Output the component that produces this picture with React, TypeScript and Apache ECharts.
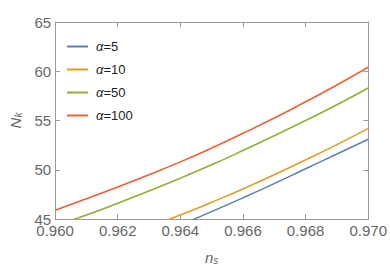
import React, { useEffect, useRef } from "react";
import * as echarts from "echarts";

const nsValues = [0.960, 0.961, 0.962, 0.963, 0.964, 0.965, 0.966, 0.967, 0.968, 0.969, 0.970];
const alpha5 = [null, null, null, null, 44.4, 45.75, 47.15, 48.6, 50.1, 51.6, 53.1];
const alpha10 = [null, null, null, 44.2, 45.4, 46.7, 48.05, 49.5, 51.0, 52.55, 54.2];
const alpha50 = [44.3, 45.4, 46.6, 47.85, 49.15, 50.5, 51.95, 53.45, 55.0, 56.6, 58.3];
const alpha100 = [45.9, 47.05, 48.25, 49.5, 50.8, 52.2, 53.7, 55.25, 56.9, 58.6, 60.4];
const seriesNames = ["α=5", "α=10", "α=50", "α=100"];
const seriesColors = ["#5E81B5", "#E19C24", "#8FB032", "#EB6235"];

const FONT = "Liberation Sans, Arial, sans-serif";

export default function App() {
  const ref = useRef<HTMLDivElement>(null);
  useEffect(() => {
    if (!ref.current) return;
    const chart = echarts.init(ref.current, null, { renderer: "svg" });
    const all = [alpha5, alpha10, alpha50, alpha100];
    const series = all.map((arr, i) => ({
      name: seriesNames[i],
      type: "line",
      data: nsValues.map((x, j) => [x, arr[j]]).filter((p) => p[1] !== null),
      smooth: true,
      symbol: "none",
      clip: true,
      lineStyle: { color: seriesColors[i], width: 1.6 },
      itemStyle: { color: seriesColors[i] },
    }));
    const axisGray = "#9a9a9a";
    const labelGray = "#666666";
    chart.setOption({
      animation: false,
      textStyle: { fontFamily: FONT },
      grid: { left: 47, right: 20, top: 22, bottom: 49, show: false },
      legend: {
        orient: "vertical",
        left: 62,
        top: 34,
        icon: "rect",
        itemWidth: 21,
        itemHeight: 2,
        itemGap: 8,
        data: seriesNames,
        formatter: (n: string) => "{i|α}" + n.slice(1),
        textStyle: {
          fontFamily: FONT,
          fontSize: 13,
          color: "#222",
          padding: [0, 0, 0, 3],
          lineHeight: 15,
          rich: { i: { fontStyle: "italic", fontSize: 13, fontFamily: FONT, color: "#222", lineHeight: 15 } },
        },
      },
      xAxis: [
        {
          type: "value",
          min: 0.96,
          max: 0.97,
          interval: 0.002,
          position: "bottom",
          name: "{i|n}{s|s}",
          nameLocation: "middle",
          nameGap: 30,
          nameTextStyle: {
            rich: {
              i: { fontStyle: "italic", fontSize: 15, color: labelGray, fontFamily: FONT },
              s: { fontStyle: "italic", fontSize: 10, color: labelGray, fontFamily: FONT, verticalAlign: "bottom", padding: [6, 0, 0, 0] },
            },
          },
          axisLine: { show: true, lineStyle: { color: axisGray, width: 1 } },
          axisTick: { show: true, inside: true, length: 5, lineStyle: { color: axisGray } },
          axisLabel: { color: labelGray, fontSize: 15, margin: 5, lineHeight: 13, formatter: (v: number) => v.toFixed(3) },
          splitLine: { show: false },
        },
        {
          type: "value",
          min: 0.96,
          max: 0.97,
          interval: 0.002,
          position: "top",
          axisLine: { show: true, lineStyle: { color: axisGray, width: 1 } },
          axisTick: { show: true, inside: true, length: 5, lineStyle: { color: axisGray } },
          axisLabel: { show: false },
          splitLine: { show: false },
        },
      ],
      yAxis: [
        {
          type: "value",
          min: 45,
          max: 65,
          interval: 5,
          position: "left",
          name: "{i|N}{s|k}",
          nameLocation: "middle",
          nameGap: 27,
          nameRotate: 90,
          nameTextStyle: {
            rich: {
              i: { fontStyle: "italic", fontSize: 15, color: labelGray, fontFamily: FONT },
              s: { fontStyle: "italic", fontSize: 10, color: labelGray, fontFamily: FONT, padding: [6, 0, 0, 0] },
            },
          },
          axisLine: { show: true, lineStyle: { color: axisGray, width: 1 } },
          axisTick: { show: true, inside: true, length: 5, lineStyle: { color: axisGray } },
          axisLabel: { color: labelGray, fontSize: 15, margin: 4, lineHeight: 11 },
          splitLine: { show: false },
        },
        {
          type: "value",
          min: 45,
          max: 65,
          interval: 5,
          position: "right",
          axisLine: { show: true, lineStyle: { color: axisGray, width: 1 } },
          axisTick: { show: true, inside: true, length: 5, lineStyle: { color: axisGray } },
          axisLabel: { show: false },
          splitLine: { show: false },
        },
      ],
      series,
    });
    return () => chart.dispose();
  }, []);
  return <div ref={ref} style={{ width: 390, height: 270, position: "absolute", left: 0, top: 0 }} />;
}
